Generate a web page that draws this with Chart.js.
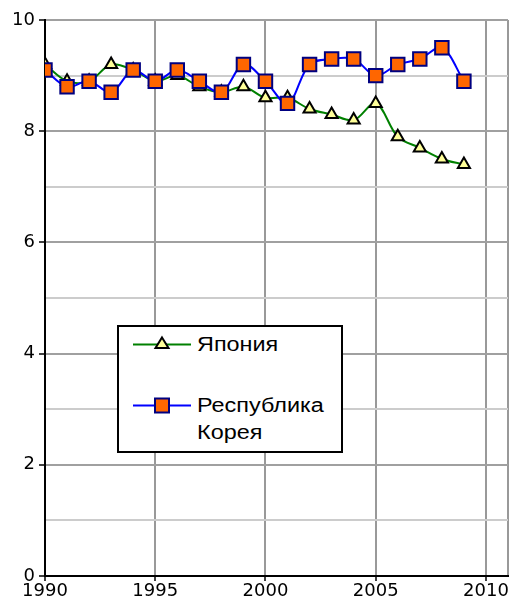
<!DOCTYPE html>
<html><head><meta charset="utf-8">
<script src="https://cdn.jsdelivr.net/npm/chart.js@4"></script>
<style>
body{margin:0;background:#fff;}
#wrap{position:relative;width:511px;height:608px;}
#legend{position:absolute;left:117px;top:325px;width:222px;height:124px;border:2px solid #000;background:#fff;font-family:"Liberation Sans",Arial,sans-serif;font-size:20px;color:#000;}
.item{position:absolute;left:14px;display:flex;align-items:flex-start;}
.item svg{flex:none;}
.item span{margin-left:6px;line-height:27px;display:inline-block;transform:scaleX(1.17);transform-origin:left center;white-space:nowrap;}
</style></head>
<body><div id="wrap"><canvas id="c" width="511" height="608"></canvas>
<div id="legend">
<div class="item" style="top:4px"><svg width="58" height="27"><line x1="0" y1="13.5" x2="58" y2="13.5" stroke="#008000" stroke-width="2"/><polygon points="29,6.5 35.5,17 22.5,17" fill="#ffff99" stroke="#000" stroke-width="2"/></svg><span>Япония</span></div>
<div class="item" style="top:65px"><svg width="58" height="27"><line x1="0" y1="13.5" x2="58" y2="13.5" stroke="#0000ff" stroke-width="2"/><rect x="22" y="6.5" width="14" height="14" fill="#ff6600" stroke="#000080" stroke-width="2"/></svg><span>Республика<br>Корея</span></div>
</div></div>
<script>
const years = [1990,1991,1992,1993,1994,1995,1996,1997,1998,1999,2000,2001,2002,2003,2004,2005,2006,2007,2008,2009];
const japan = [9.2,8.9,8.9,9.2,9.1,8.9,9.0,8.8,8.7,8.8,8.6,8.6,8.4,8.3,8.2,8.5,7.9,7.7,7.5,7.4];
const korea = [9.1,8.8,8.9,8.7,9.1,8.9,9.1,8.9,8.7,9.2,8.9,8.5,9.2,9.3,9.3,9.0,9.2,9.3,9.5,8.9];
const xTicks = [1990,1995,2000,2005,2010];
const yLabels = [0,2,4,6,8,10];

const toXY = arr => arr.map((v,i)=>({x:years[i],y:v}));
const font = {family:'"DejaVu Sans", sans-serif', size:18};

new Chart(document.getElementById('c'), {
  type:'line',
  data:{datasets:[
    {label:'Япония', data:toXY(japan), borderColor:'#008000', borderWidth:2, tension:0.35,
     pointStyle:'triangle', pointRadius:7, pointBackgroundColor:'#ffff99', pointBorderColor:'#000', pointBorderWidth:2, order:1},
    {label:'Республика Корея', data:toXY(korea), borderColor:'#0000ff', borderWidth:2, tension:0.35,
     pointStyle:'rect', pointRadius:9.5, pointBackgroundColor:'#ff6600', pointBorderColor:'#000080', pointBorderWidth:2, order:0}
  ]},
  options:{
    responsive:false, animation:false,
    layout:{autoPadding:false, padding:{top:20,right:3,left:0,bottom:0}},
    plugins:{legend:{display:false}, tooltip:{enabled:false}},
    scales:{
      x:{type:'linear', min:1990, max:2011,
        afterBuildTicks:s=>{s.ticks = xTicks.map(v=>({value:v})).concat([{value:2011}]);},
        afterFit:s=>{s.height=32; s.paddingRight=0; s.paddingLeft=0;},
        border:{color:'#000', width:2},
        grid:{color:c=>c.tick && c.tick.value===1990?'rgba(0,0,0,0)':'#999', lineWidth:2, tickLength:5,
              tickColor:c=>c.tick && c.tick.value===2011?'rgba(0,0,0,0)':'#000', tickWidth:1.5},
        ticks:{font, color:'#000', padding:0, maxRotation:0, autoSkip:false,
               callback:v=>xTicks.includes(v)?String(v):''}
      },
      y:{min:0, max:10,
        afterBuildTicks:s=>{s.ticks=[0,1,2,3,4,5,6,7,8,9,10].map(v=>({value:v}));},
        afterFit:s=>{s.width=45;},
        border:{color:'#000', width:2},
        grid:{color:c=>{const v=c.tick&&c.tick.value; if(v===0) return 'rgba(0,0,0,0)'; return v%2===0?'#a0a0a0':'#cccccc';},
              lineWidth:2, tickLength:6,
              tickColor:c=>c.tick && c.tick.value%2===0?'#000':'rgba(0,0,0,0)', tickWidth:1.5},
        ticks:{font, color:'#000', padding:4, autoSkip:false,
               callback:v=>yLabels.includes(v)?String(v):''}
      }
    }
  }
});
</script></body></html>
